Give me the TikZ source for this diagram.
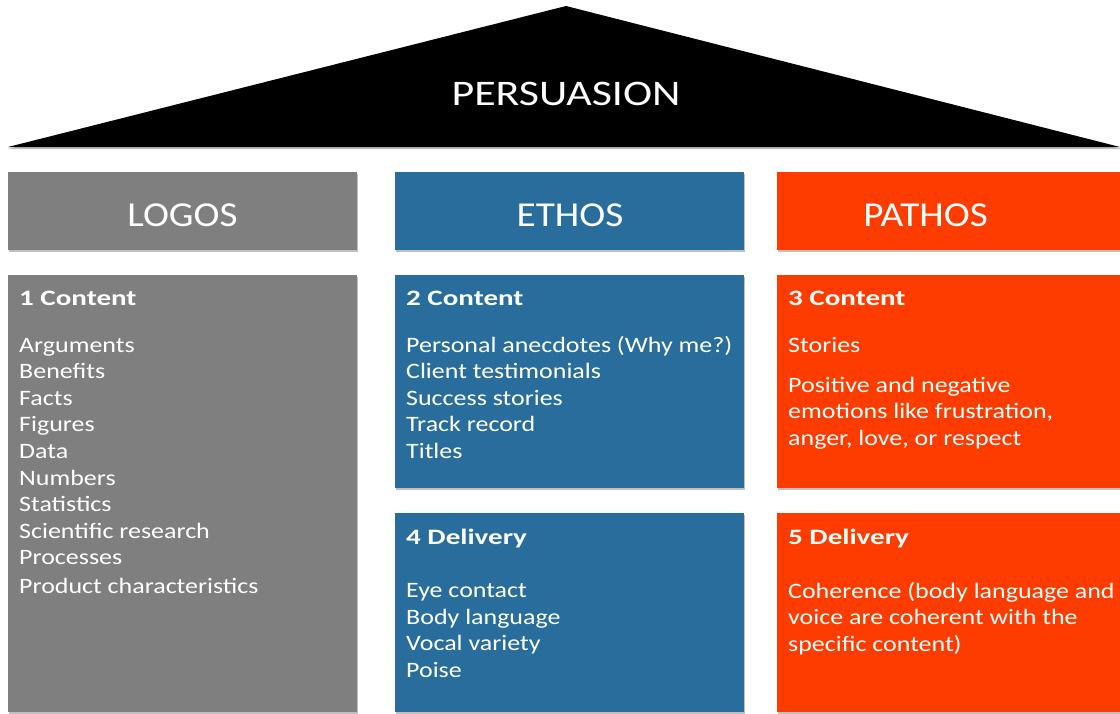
\documentclass[tikz,border=0pt]{standalone}
\usepackage{fontspec}
\setmainfont{Carlito}[FakeStretch=1.18]
\newfontfamily\titlefont{Carlito}[FakeStretch=1.32]
\newfontfamily\headfont{Carlito}[FakeStretch=1.12]
\newfontfamily\rooffont{Carlito}[FakeStretch=1.22]
\usetikzlibrary{shadows}
\definecolor{logosgray}{RGB}{127,127,127}
\definecolor{ethosblue}{RGB}{41,109,156}
\definecolor{pathosred}{RGB}{255,60,0}

\begin{document}
\begin{tikzpicture}[x=1pt, y=-1pt,
    shade box/.style={drop shadow={shadow xshift=1pt, shadow yshift=-1.5pt, fill=black, opacity=0.25}},
    head/.style={anchor=north west, inner sep=0pt, minimum width=349pt, minimum height=78pt, shade box},
    headtxt/.style={anchor=base, inner sep=0pt, text=white, font=\headfont\fontsize{35}{40}\selectfont},
    card/.style={anchor=north west, inner sep=0pt, minimum width=349pt, shade box},
    title/.style={anchor=base west, inner sep=0pt, text=white, font=\titlefont\fontsize{22}{26}\selectfont\bfseries},
    item/.style={anchor=base west, inner sep=0pt, text=white, font=\fontsize{22}{26}\selectfont}]
    \useasboundingbox (0,0) rectangle (1120,713);
    % Parametri
    \pgfmathsetmacro{\colA}{8}
    \pgfmathsetmacro{\colB}{395}
    \pgfmathsetmacro{\colC}{777}
    \pgfmathsetmacro{\step}{26.6}
    % Tetto
    \fill[black!25] (\colA,149) -- (566,8) -- (1122,149) -- cycle;
    \fill[black] (\colA,147) -- (566,6) -- (1120,147) -- cycle;
    \node[headtxt, font=\rooffont\fontsize{36}{40}\selectfont] (roof) at (566,105) {PERSUASION};
    % Colonne
    \node[head, fill=logosgray] (logos) at (\colA,172) {};
    \node[head, fill=ethosblue] (ethos) at (\colB,172) {};
    \node[head, fill=pathosred] (pathos) at (\colC,172) {};
    \node[headtxt] (logostxt) at (182.5,226) {LOGOS};
    \node[headtxt] (ethostxt) at (570,226) {ETHOS};
    \node[headtxt] (pathostxt) at (925.5,226) {PATHOS};
    % Riquadri
    \node[card, fill=logosgray, minimum height=437pt] (card1) at (\colA,275) {};
    \node[card, fill=ethosblue, minimum height=213pt] (card2) at (\colB,275) {};
    \node[card, fill=pathosred, minimum height=213pt] (card3) at (\colC,275) {};
    \node[card, fill=ethosblue, minimum height=199pt] (card4) at (\colB,513) {};
    \node[card, fill=pathosred, minimum height=199pt] (card5) at (\colC,513) {};
    % Logos
    \node[title] (t1) at (19,305) {1 Content};
    \foreach \txt [count=\i] in {Arguments, Benefits, Facts, Figures, Data, Numbers, Statistics, Scientific research, Processes}
        \node[item] (lg\i) at (19,{352+\step*(\i-1)}) {\txt};
    \node[item] (lg10) at (19,593) {Product characteristics};
    % Ethos
    \node[title] (t2) at (406,305) {2 Content};
    \foreach \txt [count=\i] in {Personal anecdotes (Why me?), Client testimonials, Success stories, Track record, Titles}
        \node[item] (et\i) at (406,{352+\step*(\i-1)}) {\txt};
    \node[title] (t4) at (406,544) {4 Delivery};
    \foreach \txt [count=\i] in {Eye contact, Body language, Vocal variety, Poise}
        \node[item] (dl\i) at (406,{597.5+26.7*(\i-1)}) {\txt};
    % Pathos
    \node[title] (t3) at (788,305) {3 Content};
    \node[item] (pt1) at (788,352) {Stories};
    \foreach \txt [count=\i] in {Positive and negative, {emotions like frustration,}, {anger, love, or respect}}
        \node[item] (pt\i b) at (788,{392+\step*(\i-1)}) {\txt};
    \node[title] (t5) at (788,544) {5 Delivery};
    \foreach \txt [count=\i] in {Coherence (body language and, voice are coherent with the, specific content)}
        \node[item] (ch\i) at (788,{598+\step*(\i-1)}) {\txt};
\end{tikzpicture}
\end{document}
